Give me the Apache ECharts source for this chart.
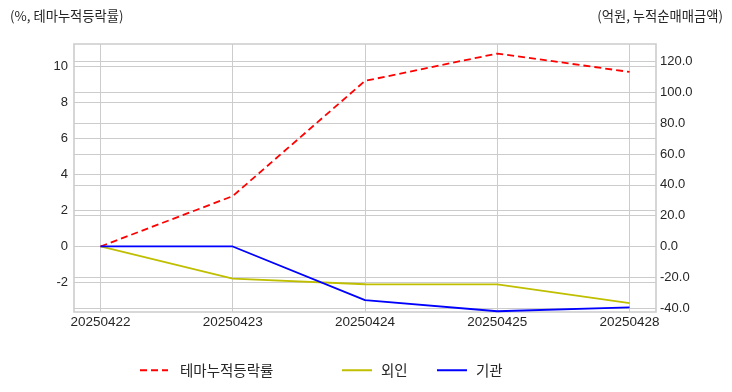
<!DOCTYPE html>
<html>
<head>
<meta charset="utf-8">
<script src="https://cdn.jsdelivr.net/npm/echarts@6/dist/echarts.min.js"></script>
<style>html,body{margin:0;padding:0;background:#fff}#c{width:732px;height:392px}</style>
</head>
<body>
<div id="c"></div>
<script>
const categories = ['20250422', '20250423', '20250424', '20250425', '20250428'];
const themeReturn = [0, 2.8, 9.2, 10.72, 9.7];
const foreign = [0, -20.8, -24.5, -24.6, -36.8];
const institution = [0, 0, -34.8, -42.0, -39.5];
const leftTicks = [-2, 0, 2, 4, 6, 8, 10];
const rightTicks = [-40, -20, 0, 20, 40, 60, 80, 100, 120];
const xTicks = [0, 1, 2, 3, 4];

const FONT = "'Liberation Sans', 'Noto Sans CJK KR', sans-serif";
const KFONT = "'Noto Sans CJK KR', sans-serif";
const GRID = '#cccccc';
const TXT = '#262626';

const chart = echarts.init(document.getElementById('c'), null, {renderer: 'canvas'});
const pair = arr => arr.map((v, i) => [i, v]);
const legendText = pad => ({fontFamily: KFONT, fontSize: 14.5, color: TXT, padding: [0, 0, 0, pad]});
const legendBase = {top: 358, itemHeight: 14, itemStyle: {opacity: 0}};

chart.setOption({
  animation: false,
  backgroundColor: '#ffffff',
  title: [
    {text: '(%, 테마누적등락률)', left: 5, top: 4, textStyle: {fontFamily: KFONT, fontSize: 13.3, fontWeight: 'normal', color: TXT}},
    {text: '(억원, 누적순매매금액)', right: 4, top: 4, textStyle: {fontFamily: KFONT, fontSize: 13.3, fontWeight: 'normal', color: TXT}}
  ],
  grid: {left: 74, right: 76, top: 44, height: 268, show: true, borderColor: GRID, borderWidth: 1.6, backgroundColor: 'transparent'},
  xAxis: {
    type: 'value', min: -0.2, max: 4.2,
    axisLine: {show: false}, axisTick: {show: false, customValues: xTicks},
    axisLabel: {customValues: xTicks, formatter: v => categories[v] || '', color: TXT, fontFamily: FONT, fontSize: 13.5, margin: 4},
    splitLine: {show: true, lineStyle: {color: GRID, width: 1}}
  },
  yAxis: [
    {type: 'value', min: -3.64, max: 11.25, position: 'left',
     axisLine: {show: false}, axisTick: {show: false, customValues: leftTicks},
     axisLabel: {customValues: leftTicks, color: TXT, fontFamily: FONT, fontSize: 13, margin: 6},
     splitLine: {show: true, lineStyle: {color: GRID, width: 1}}},
    {type: 'value', min: -42.5, max: 131.3, position: 'right',
     axisLine: {show: false}, axisTick: {show: false, customValues: rightTicks},
     axisLabel: {customValues: rightTicks, formatter: v => v.toFixed(1), color: TXT, fontFamily: FONT, fontSize: 13, margin: 4},
     splitLine: {show: true, lineStyle: {color: GRID, width: 1}}}
  ],
  legend: [
    Object.assign({data: ['테마누적등락률'], left: 134, itemWidth: 28, textStyle: legendText(7)}, legendBase),
    Object.assign({data: ['외인'], left: 336, itemWidth: 30, textStyle: legendText(4)}, legendBase),
    Object.assign({data: ['기관'], left: 431, itemWidth: 30, textStyle: legendText(4)}, legendBase)
  ],
  series: [
    {name: '테마누적등락률', type: 'line', yAxisIndex: 0, data: pair(themeReturn), symbol: 'none', color: '#ff0000',
     lineStyle: {color: '#ff0000', width: 1.8, type: [7, 4]}, z: 3},
    {name: '외인', type: 'line', yAxisIndex: 1, data: pair(foreign), symbol: 'none', color: '#bfbf00',
     lineStyle: {color: '#bfbf00', width: 1.8}, z: 2},
    {name: '기관', type: 'line', yAxisIndex: 1, data: pair(institution), symbol: 'none', color: '#0000ff',
     lineStyle: {color: '#0000ff', width: 1.8}, z: 4}
  ]
});
</script>
</body>
</html>
